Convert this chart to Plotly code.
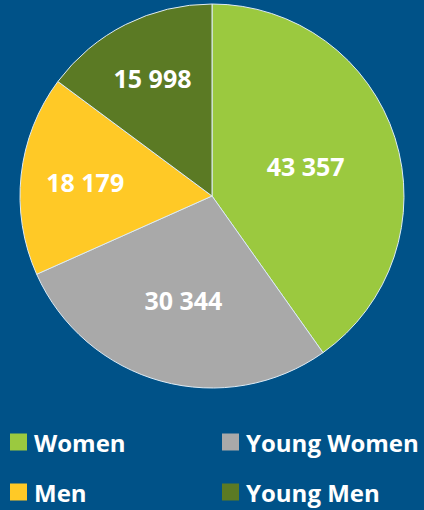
import plotly.graph_objects as go

categories = ["Women", "Young Women", "Men", "Young Men"]
values = [43357, 30344, 18179, 15998]
colors = ["#9BC93F", "#A9A9A9", "#FFC926", "#5B7A24"]

BG = "#005288"
W, H = 424, 510

fig = go.Figure()
fig.add_trace(go.Pie(
    labels=categories,
    values=values,
    sort=False,
    direction="clockwise",
    rotation=0,
    marker=dict(colors=colors, line=dict(color="#DDEBF5", width=1)),
    texttemplate="%{value:,.0f}",
    textposition="inside",
    insidetextorientation="horizontal",
    textfont=dict(family="Open Sans", size=25, color="white", weight=700),
    domain=dict(x=[20 / W, 404 / W], y=[(H - 388) / H, (H - 4) / H]),
    showlegend=False,
    hoverinfo="label+value",
))

# legend (2 columns)
leg_pos = [(10, 442), (222, 442), (10, 492), (222, 492)]
for (px, py), name, col in zip(leg_pos, categories, colors):
    fig.add_shape(type="rect", xref="paper", yref="paper",
                  x0=px / W, x1=(px + 17) / W,
                  y0=(H - py - 8.5) / H, y1=(H - py + 8.5) / H,
                  fillcolor=col, line=dict(width=0))
    fig.add_annotation(xref="paper", yref="paper", x=(px + 22) / W, y=(H - py) / H,
                       text=name, showarrow=False, xanchor="left", yanchor="middle",
                       font=dict(family="Open Sans", size=24, color="white", weight=700))

fig.update_layout(
    width=W, height=H,
    margin=dict(l=0, r=0, t=0, b=0),
    paper_bgcolor=BG, plot_bgcolor=BG,
    separators=". ",
)
fig.write_html("out.html",
               config={"displayModeBar": False},
               post_script="document.body.style.margin='0';document.body.style.background='" + BG + "';")
